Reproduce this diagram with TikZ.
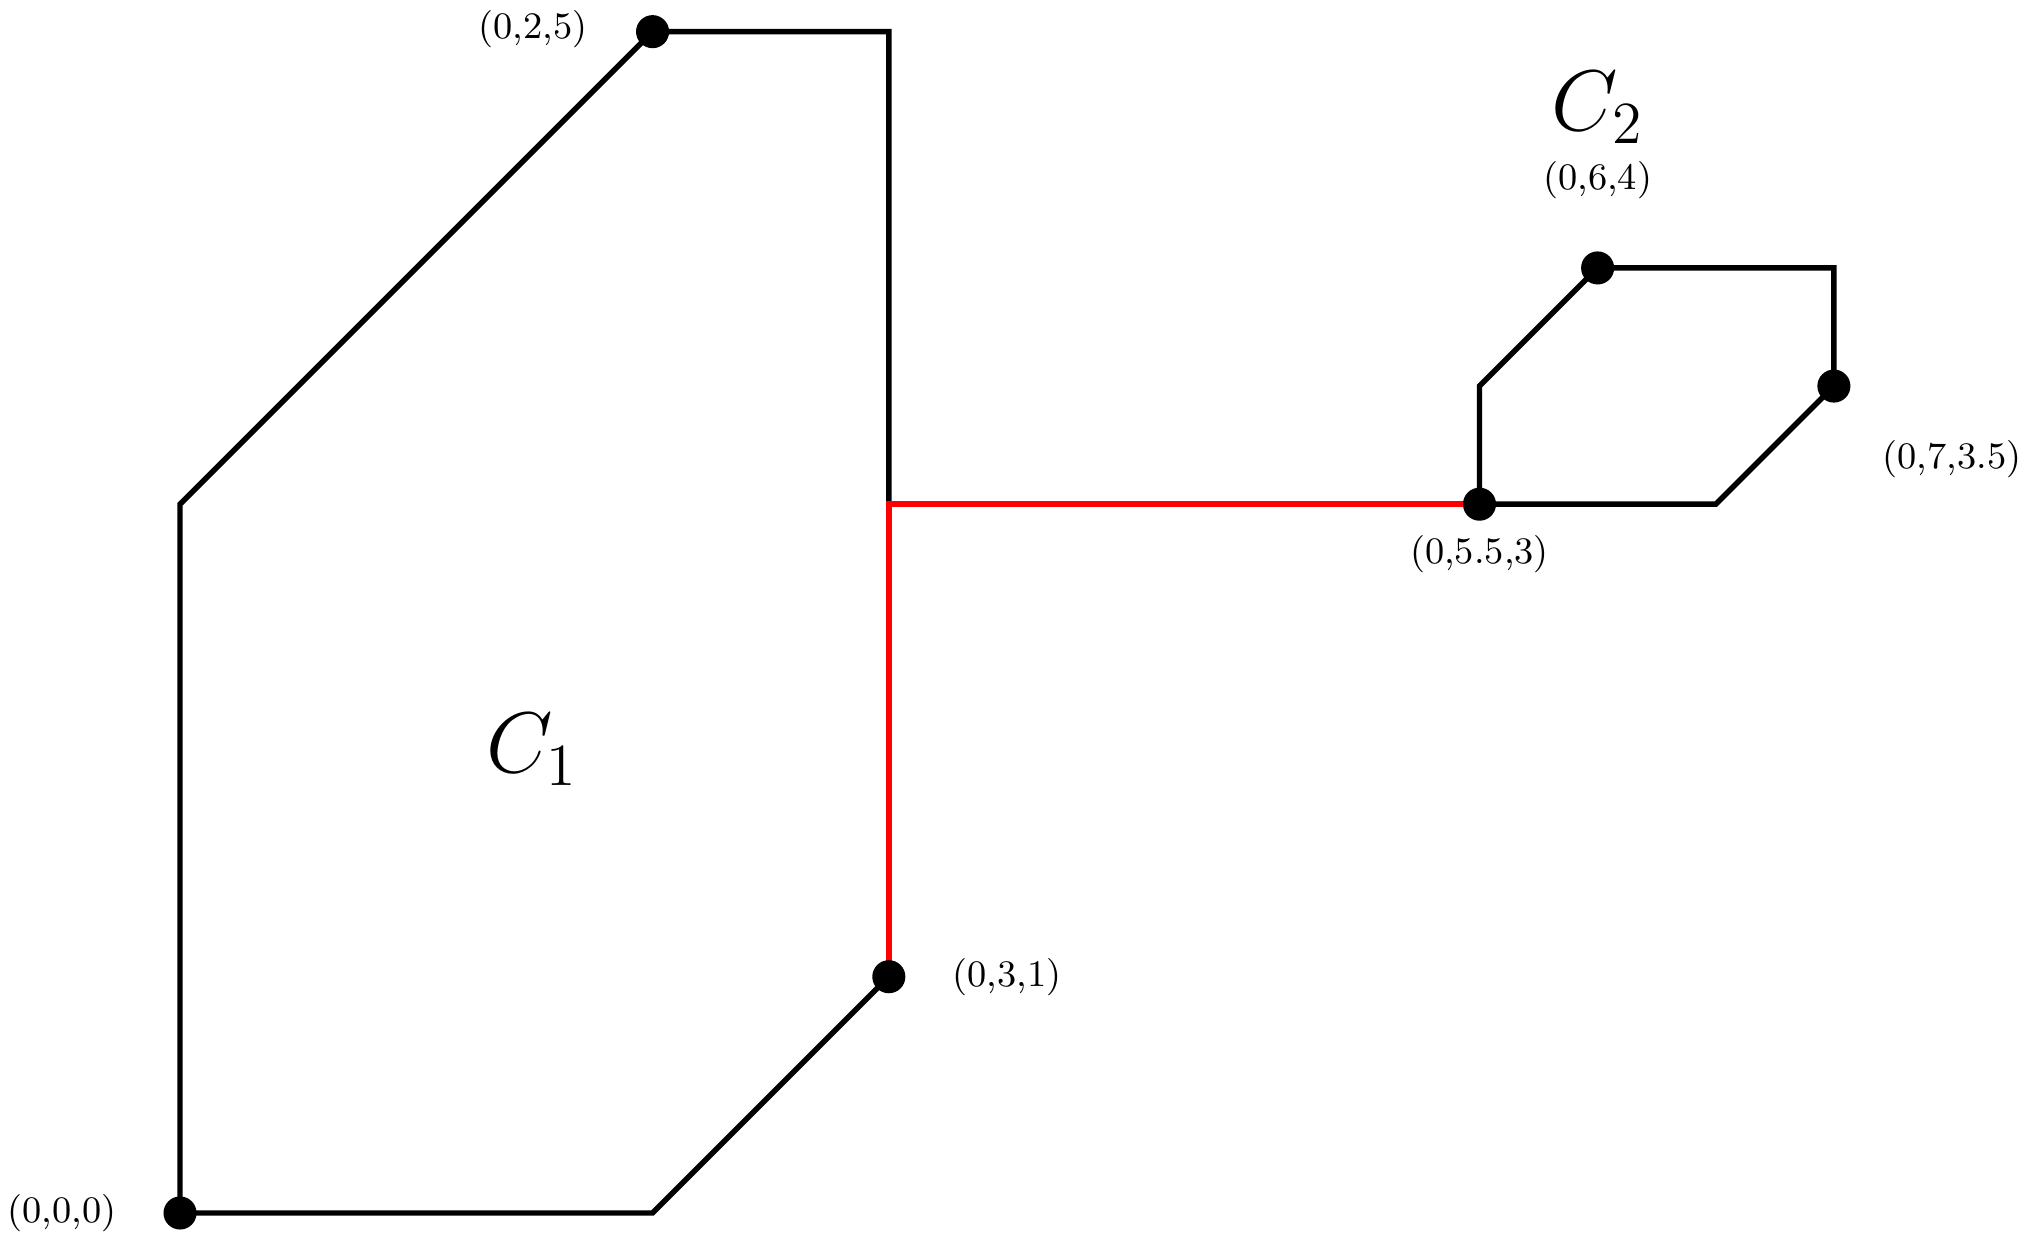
\documentclass[tikz,border=0pt]{standalone}
\begin{document}
\begin{tikzpicture}[x=2cm,y=2cm,
  edge/.style={line width=1.3pt,line join=miter},
  dot/.style={circle,fill=black,inner sep=0pt,minimum size=0.28cm},
  lab/.style={font=\small}]
\useasboundingbox (-0.762,-0.1315) rectangle (7.830,5.134);
\coordinate (a0) at (0,0);
\coordinate (a1) at (2,0);
\node[coordinate] (p31) at (3,1) {};
\coordinate (a3) at (3,3);
\coordinate (a4) at (3,5);
\coordinate (p25) at (2,5);
\coordinate (a6) at (0,3);
\coordinate (b0) at (5.5,3);
\coordinate (b1) at (6.5,3);
\coordinate (b2) at (7,3.5);
\coordinate (b3) at (7,4);
\coordinate (b4) at (6,4);
\coordinate (b5) at (5.5,3.5);
\draw[edge] (a3) -- (a4) -- (p25) -- (a6) -- (a0) -- (a1) -- (p31);
\draw[edge] (b0) -- (b1) -- (b2) -- (b3) -- (b4) -- (b5) -- cycle;
\draw[edge,red] (p31) -- (a3) -- (b0);
\foreach \p in {a0,p31,p25,b0,b2,b4} \node[dot] at (\p) {};
\node[lab] (l1) at (-0.5,0) {(0,0,0)};
\node[lab] (l2) at (1.495,5.01) {(0,2,5)};
\node[lab] (l3) at (3.5,1) {(0,3,1)};
\node[lab] (l4) at (5.5,2.79) {(0,5.5,3)};
\node[lab] (l5) at (7.5,3.19) {(0,7,3.5)};
\node[lab] (l6) at (6,4.37) {(0,6,4)};
\node[font=\huge] (c1) at (1.49,1.96) {$C_1$};
\node[font=\huge] (c2) at (6,4.68) {$C_2$};
\end{tikzpicture}
\end{document}
